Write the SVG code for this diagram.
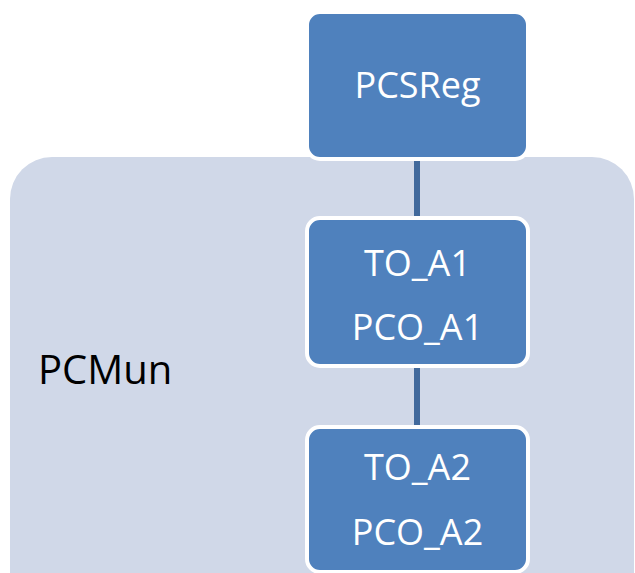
<svg xmlns="http://www.w3.org/2000/svg" width="635" height="573" viewBox="0 0 635 573">
<style>
.box{fill:#4F81BD;stroke:#FFFFFF;stroke-width:4}
.t{font-family:"Open Sans","Liberation Sans",sans-serif;font-size:36px;fill:#FFFFFF;text-anchor:middle}
.lbl{font-family:"Open Sans","Liberation Sans",sans-serif;font-size:40px;fill:#000000}
.con{stroke:#41699C;stroke-width:6;fill:none}
</style>
<rect width="635" height="573" fill="#FFFFFF"/>
<g id="PCMun">
<rect x="10" y="157" width="624" height="460" rx="42" fill="#D0D8E8"/>
<text class="lbl" x="38" y="384">PCMun</text>
</g>
<g id="connectors">
<line class="con" x1="417" y1="158" x2="417" y2="218"/>
<line class="con" x1="417" y1="366" x2="417" y2="426"/>
</g>
<g id="PCSReg">
<rect class="box" x="307" y="12" width="221" height="147" rx="13"/>
<text class="t" x="417.5" y="98">PCSReg</text>
</g>
<g id="A1">
<rect class="box" x="307" y="218" width="221" height="148" rx="13"/>
<text class="t" x="417.5" y="276">TO_A1</text>
<text class="t" x="417.5" y="340">PCO_A1</text>
</g>
<g id="A2">
<rect class="box" x="307" y="427" width="221" height="145" rx="13"/>
<text class="t" x="417.5" y="480">TO_A2</text>
<text class="t" x="417.5" y="545">PCO_A2</text>
</g>
</svg>
